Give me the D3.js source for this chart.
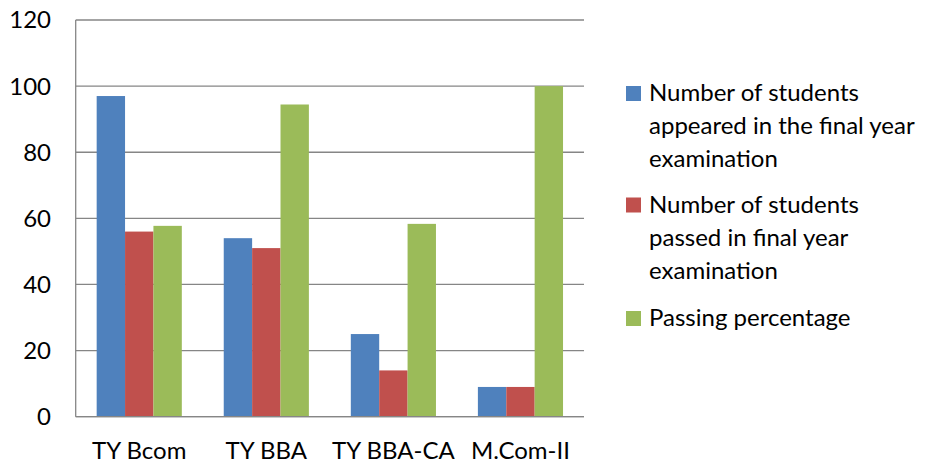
<!DOCTYPE html>
<html><head><meta charset="utf-8">
<script src="https://cdn.jsdelivr.net/npm/d3@7/dist/d3.min.js"></script>
<style>body{margin:0;background:#fff}svg{display:block}text{font-family:Lato,"Open Sans",sans-serif;fill:#000}</style>
</head><body>
<svg id="c" width="932" height="464"></svg>
<script>
const categories = ["TY Bcom", "TY BBA", "TY BBA-CA", "M.Com-II"];
const appeared = [97, 54, 25, 9];
const passed = [56, 51, 14, 9];
const percentage = [57.73, 94.44, 58.33, 100];
const seriesNames = ["Number of students appeared in the final year examination",
  "Number of students passed in final year examination", "Passing percentage"];
const legendLines = [["Number of students", "appeared in the final year", "examination"],
  ["Number of students", "passed in final year", "examination"], ["Passing percentage"]];
const colors = ["#4F81BD", "#C0504D", "#9BBB59"];
const yTicks = [0, 20, 40, 60, 80, 100, 120];

const series = [appeared, passed, percentage];
const svg = d3.select("#c");
const L = 75.7, R = 584, T = 20, B = 416.7;
const x = d3.scaleBand().domain(categories).range([L, R]).paddingInner(0).paddingOuter(0);
const y = d3.scaleLinear().domain([0, 120]).range([B, T]);
const inner = x.bandwidth() * 0.67;
const x1 = d3.scaleBand().domain(d3.range(3)).range([0, inner]);
const FS = 24;

// gridlines
svg.append("g").selectAll("line").data(yTicks).join("line")
  .attr("x1", L).attr("x2", R).attr("y1", d => y(d)).attr("y2", d => y(d))
  .attr("stroke", "#868686").attr("stroke-width", 1.3);

// bars
series.forEach((s, i) => {
  svg.append("g").selectAll("rect").data(s).join("rect")
    .attr("x", (d, j) => x(categories[j]) + (x.bandwidth() - inner) / 2 + x1(i))
    .attr("y", d => y(d))
    .attr("width", x1.bandwidth())
    .attr("height", d => B - y(d))
    .attr("fill", colors[i]);
});

// axes
svg.append("line").attr("x1", L).attr("x2", L).attr("y1", T).attr("y2", B)
  .attr("stroke", "#868686").attr("stroke-width", 1.3);
svg.append("line").attr("x1", L).attr("x2", R).attr("y1", B).attr("y2", B)
  .attr("stroke", "#868686").attr("stroke-width", 1.3);

svg.append("g").selectAll("text").data(yTicks).join("text")
  .attr("x", 51).attr("y", d => y(d)).attr("dy", "0.35em")
  .attr("text-anchor", "end").attr("font-size", FS).text(d => d);

svg.append("g").selectAll("text").data(categories).join("text")
  .attr("x", d => x(d) + x.bandwidth() / 2).attr("y", 459)
  .attr("text-anchor", "middle").attr("font-size", FS).text(d => d);

// legend
const legendBase = [101, 212.5, 326];
legendLines.forEach((lines, i) => {
  const g = svg.append("g");
  g.append("rect").attr("x", 626).attr("y", legendBase[i] - 15).attr("width", 15).attr("height", 15)
    .attr("fill", colors[i]);
  lines.forEach((t, k) => {
    g.append("text").attr("x", 649).attr("y", legendBase[i] + k * 33)
      .attr("font-size", FS).text(t);
  });
});
</script>
</body></html>
